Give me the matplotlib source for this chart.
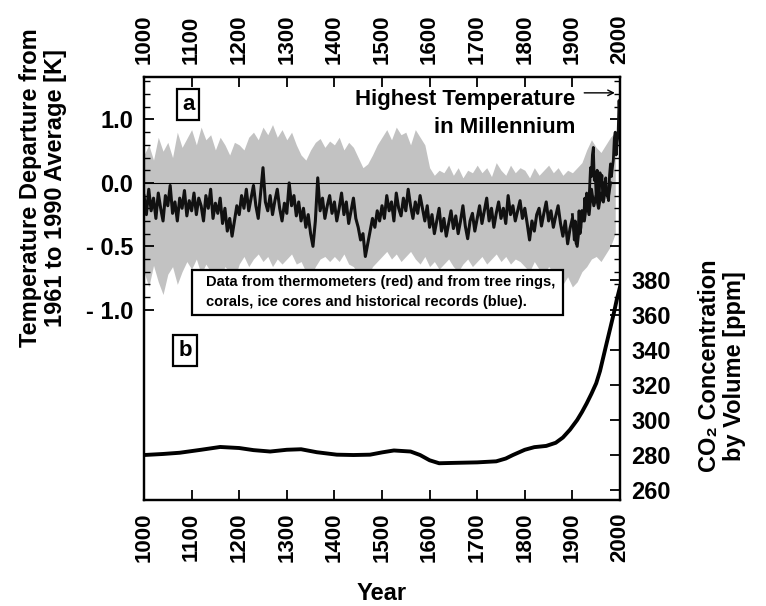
import numpy as np
import matplotlib
matplotlib.use("Agg")
import matplotlib.pyplot as plt
from matplotlib.patches import Rectangle

plt.rcParams['font.family'] = ['Liberation Sans', 'DejaVu Sans']
plt.rcParams['font.weight'] = 'bold'
plt.rcParams['axes.labelweight'] = 'bold'

# reconstruction from proxies, one value every 5 years (1000-1980), K
rec_years = np.arange(1000, 1985, 5)
rec_temp = [
    -0.10, -0.25, -0.05, -0.22, -0.12, -0.28, -0.08, -0.20, -0.30, -0.10,
    -0.18, -0.02, -0.24, -0.15, -0.30, -0.12, -0.20, -0.06, -0.26, -0.14,
    -0.22, -0.08, -0.25, -0.12, -0.18, -0.30, -0.10, -0.20, -0.05, -0.28,
    -0.16, -0.24, -0.12, -0.32, -0.20, -0.38, -0.28, -0.42, -0.30, -0.18,
    -0.25, -0.10, -0.20, -0.05, -0.22, -0.12, -0.02, -0.18, -0.28, -0.08,
    0.12, -0.15, -0.22, -0.10, -0.25, -0.14, -0.05, -0.20, -0.30, -0.16,
    -0.24, 0.00, -0.18, -0.10, -0.26, -0.15, -0.30, -0.20, -0.35, -0.25,
    -0.40, -0.50, -0.30, 0.04, -0.22, -0.12, -0.28, -0.18, -0.10, -0.24,
    -0.15, -0.30, -0.20, -0.08, -0.25, -0.15, -0.32, -0.22, -0.12, -0.28,
    -0.35, -0.45, -0.40, -0.58, -0.48, -0.38, -0.28, -0.35, -0.22, -0.30,
    -0.18, -0.28, -0.10, -0.22, -0.15, -0.30, -0.08, -0.20, -0.26, -0.12,
    -0.22, -0.05, -0.18, -0.28, -0.15, -0.24, -0.10, -0.20, -0.30, -0.18,
    -0.35, -0.25, -0.40, -0.30, -0.20, -0.38, -0.28, -0.42, -0.32, -0.22,
    -0.36, -0.26, -0.40, -0.30, -0.18, -0.34, -0.44, -0.30, -0.24, -0.38,
    -0.28, -0.18, -0.32, -0.22, -0.12, -0.30, -0.20, -0.35, -0.24, -0.15,
    -0.28, -0.20, -0.32, -0.10, -0.25, -0.18, -0.30, -0.22, -0.14, -0.28,
    -0.20, -0.32, -0.45, -0.30, -0.38, -0.25, -0.20, -0.34, -0.24, -0.15,
    -0.30, -0.22, -0.35, -0.26, -0.18, -0.32, -0.42, -0.30, -0.48, -0.36,
    -0.28, -0.40, -0.50, -0.32, -0.22, -0.30, -0.15, -0.25, -0.05, -0.18,
    -0.10, -0.20, -0.08, -0.15, -0.02, -0.12, 0.00,
]

# uncertainty band of the reconstruction, every 10 years
band_years = np.arange(1000, 2000, 10)
band_upper = [
    0.22, 0.30, 0.18, 0.36, 0.25, 0.32, 0.20, 0.40, 0.28, 0.35,
    0.42, 0.30, 0.44, 0.34, 0.38, 0.26, 0.36, 0.30, 0.22, 0.32,
    0.30, 0.26, 0.36, 0.40, 0.34, 0.44, 0.38, 0.46, 0.36, 0.42,
    0.34, 0.40, 0.30, 0.22, 0.18, 0.26, 0.32, 0.35, 0.28, 0.33,
    0.30, 0.36, 0.26, 0.32, 0.28, 0.20, 0.12, 0.15, 0.22, 0.30,
    0.36, 0.42, 0.34, 0.44, 0.38, 0.40, 0.30, 0.42, 0.36, 0.30,
    0.12, 0.06, 0.10, 0.08, 0.14, 0.06, 0.12, 0.04, 0.10, 0.08,
    0.14, 0.08, 0.12, 0.05, 0.16, 0.10, 0.06, 0.14, 0.08, 0.12,
    0.10, 0.04, 0.12, 0.06, 0.10, 0.14, 0.08, 0.12, 0.06, 0.10,
    0.08, 0.12, 0.16, 0.26, 0.34, 0.28, 0.24, 0.30, 0.36, 0.40,
]
band_lower = [
    -0.70, -0.82, -0.65, -0.78, -0.88, -0.72, -0.66, -0.80, -0.70, -0.62,
    -0.68, -0.60, -0.72, -0.64, -0.70, -0.78, -0.74, -0.66, -0.70, -0.76,
    -0.64, -0.58, -0.66, -0.60, -0.56, -0.62, -0.58, -0.66, -0.60, -0.64,
    -0.60, -0.56, -0.64, -0.62, -0.70, -0.74, -0.66, -0.60, -0.58, -0.62,
    -0.58, -0.62, -0.56, -0.64, -0.66, -0.72, -0.78, -0.74, -0.66, -0.62,
    -0.58, -0.54, -0.60, -0.56, -0.62, -0.58, -0.54, -0.60, -0.64, -0.58,
    -0.66, -0.62, -0.68, -0.64, -0.60, -0.66, -0.70, -0.64, -0.60, -0.66,
    -0.62, -0.58, -0.64, -0.60, -0.56, -0.62, -0.58, -0.64, -0.60, -0.62,
    -0.66, -0.70, -0.62, -0.68, -0.72, -0.66, -0.70, -0.76, -0.80, -0.74,
    -0.82, -0.78, -0.70, -0.66, -0.60, -0.58, -0.62, -0.56, -0.50, -0.40,
]

# thermometer record, every 2 years
obs_years = list(range(1900, 2000, 2)) + [1999]
obs_temp = [-0.25, -0.35, -0.45, -0.30, -0.48, -0.42, -0.38, -0.22, -0.40, -0.35,
            -0.22, -0.30, -0.26, -0.12, -0.22, -0.08, -0.15, -0.20, -0.05, 0.12,
            0.05, 0.22, 0.28, 0.02, 0.08, -0.12, 0.10, -0.08, -0.15, 0.08,
            0.00, 0.06, -0.14, 0.00, -0.06, 0.04, -0.10, -0.06, -0.14, 0.06,
            0.15, 0.05, 0.12, 0.18, 0.35, 0.40, 0.22, 0.32, 0.38, 0.65,
            0.55]

# CO2 concentration, ppm
co2_years = [1000, 1040, 1075, 1120, 1160, 1200, 1230, 1265, 1300, 1330,
             1363, 1405, 1440, 1475, 1500, 1525, 1560, 1580, 1600, 1620,
             1650, 1700, 1740, 1760, 1775, 1800, 1820, 1845, 1865, 1880,
             1895, 1910, 1920, 1930, 1940, 1950, 1958, 1965, 1972, 1980,
             1987, 1993, 2000]
co2_ppm = [280.0, 280.6, 281.3, 283.0, 284.6, 284.0, 282.8, 282.0, 283.0, 283.3,
           281.6, 280.2, 280.0, 280.2, 281.5, 282.6, 282.0, 280.0, 277.0, 275.3,
           275.5, 275.8, 276.4, 278.0, 280.0, 283.0, 284.5, 285.2, 287.0, 290.0,
           294.5, 300.0, 304.5, 309.5, 315.0, 321.0, 328.0, 336.0, 344.0, 353.0,
           361.0, 368.5, 376.0]

year_ticks = np.arange(1000, 2100, 100)
temp_ticks = [0.5, 0.0, -0.5, -1.0]
temp_labels = ['1.0', '0.0', '- 0.5', '- 1.0']
co2_ticks = [260, 280, 300, 320, 340, 360, 380]

fig = plt.figure(figsize=(7.66, 6.06), dpi=100)
ax = fig.add_axes([144/766, 1 - 500/606, 476/766, 423/606])
ax2 = ax.twinx()

# temperature panel
ax.fill_between(band_years, band_lower, band_upper, color='#c2c2c2', lw=0, zorder=1)
ax.axhline(0, color='black', lw=0.8, zorder=2)
ax.plot(rec_years, rec_temp, color='#111111', lw=2.2, zorder=3)
ax.plot(obs_years, obs_temp, color='#111111', lw=2.0, zorder=3)

# CO2 panel
ax2.plot(co2_years, co2_ppm, color='black', lw=2.8, zorder=3)

ax.set_xlim(1000, 2000)
ax.set_ylim(-2.5, 0.835)
ax2.set_ylim(254.3, 496)

ax.set_xticks(year_ticks)
ax.set_xticklabels([str(y) for y in year_ticks], rotation=90, fontsize=16)
ax.tick_params(axis='x', which='both', direction='in', length=7, width=1.3,
               top=True, labeltop=True, pad=9)
plt.setp(ax.xaxis.get_majorticklabels(), rotation=90)

ax.set_yticks(temp_ticks)
ax.set_yticklabels(temp_labels, fontsize=17)
ax.set_yticks(np.round(np.arange(-0.9, 0.85, 0.1), 2), minor=True)
ax.tick_params(axis='y', which='major', direction='in', length=7, width=1.3,
               right=True, pad=8)
ax.tick_params(axis='y', which='minor', direction='in', length=4, width=1.0,
               right=True)

ax2.set_yticks(co2_ticks)
ax2.set_yticklabels([str(c) for c in co2_ticks], fontsize=17)
ax2.set_yticks(co2_ticks[:4], minor=True)
ax2.tick_params(axis='y', which='major', direction='in', length=7, width=1.3, pad=8)
ax2.tick_params(axis='y', which='minor', direction='in', length=7, width=1.3,
                left=True, right=False)

for a in (ax, ax2):
    for sp in a.spines.values():
        sp.set_linewidth(1.6)

ax.set_xlabel('Year', fontsize=17, fontweight='bold', labelpad=14)

# axis titles
fig.text(43/766, 1 - 188/606, 'Temperature Departure from\n1961 to 1990 Average [K]',
         rotation=90, ha='center', va='center', fontsize=17, linespacing=1.15,
         multialignment='center')
fig.text(722/766, 1 - 366/606, 'CO\u2082 Concentration\nby Volume [ppm]',
         rotation=90, ha='center', va='center', fontsize=17, linespacing=1.15,
         multialignment='center')

# panel markers
ax.text(1093, 0.62, 'a', fontsize=16, ha='center', va='center', zorder=5,
        bbox=dict(boxstyle='square,pad=0.22', fc='white', ec='black', lw=1.6))
ax.text(1086, -1.32, 'b', fontsize=16, ha='center', va='center', zorder=5,
        bbox=dict(boxstyle='square,pad=0.22', fc='white', ec='black', lw=1.6))

# warmest-year note
ax.text(1907, 0.66, 'Highest Temperature', fontsize=16, ha='right', va='center', zorder=5)
ax.text(1907, 0.44, 'in Millennium', fontsize=16, ha='right', va='center', zorder=5)
ax.annotate('', xy=(1995, 0.71), xytext=(1919, 0.71), zorder=5,
            arrowprops=dict(arrowstyle='->', lw=1.0, color='black'))

# legend box
ax.add_patch(Rectangle((1101, -1.04), 779, 0.355, fc='white', ec='black',
                       lw=1.6, zorder=4))
ax.text(1130, -0.785, 'Data from thermometers (red) and from tree rings,',
        fontsize=10.5, ha='left', va='center', zorder=5)
ax.text(1130, -0.94, 'corals, ice cores and historical records (blue).',
        fontsize=10.5, ha='left', va='center', zorder=5)

fig.savefig('out.png', dpi=100)
